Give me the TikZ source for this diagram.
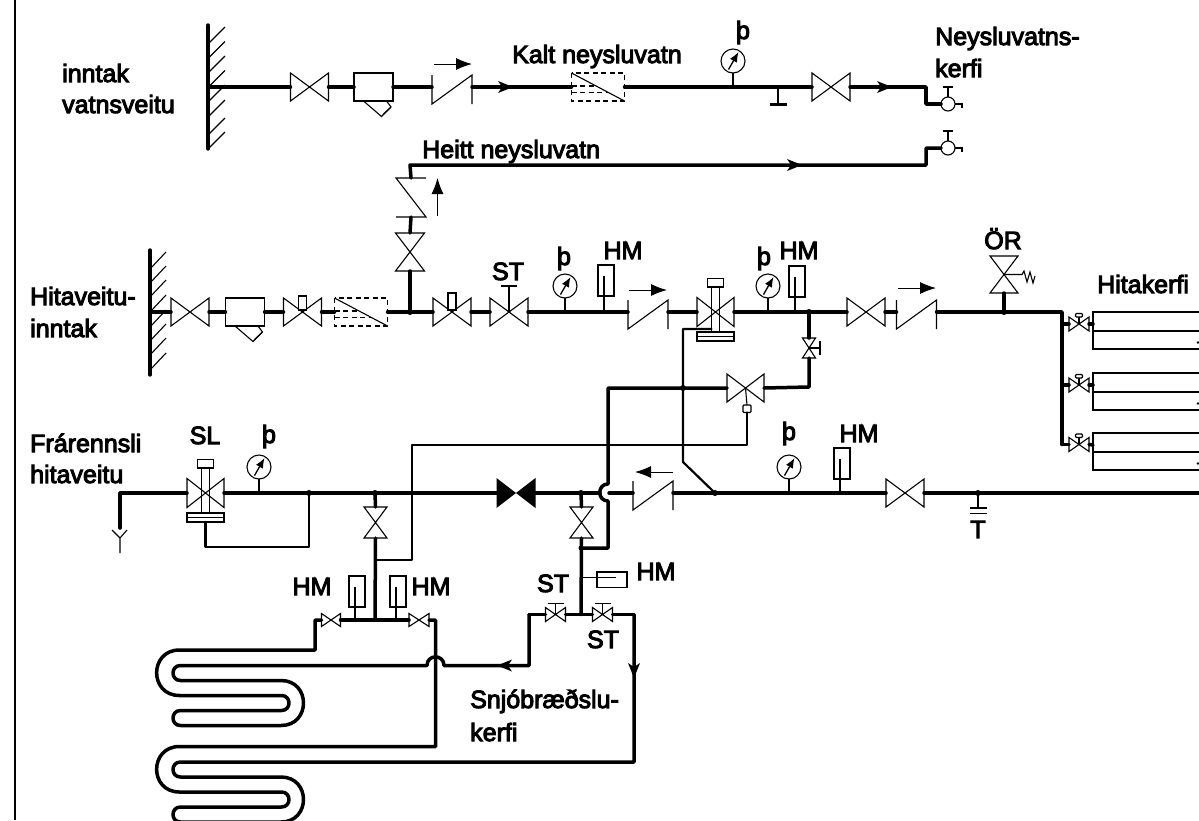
\documentclass[tikz,border=0pt]{standalone}
\usepackage{fontspec}
\usetikzlibrary{arrows.meta}
\newfontfamily\labfont[FakeBold=4]{Liberation Sans}
\tikzset{
  x=1pt,y=-1pt,
  sym/.style={line width=1.1pt,line join=miter},
  pipe/.style={line width=3.5pt,line join=round,line cap=round},
  ctl/.style={line width=2.2pt,line join=round,line cap=round},
  lab/.style={inner sep=0pt,font=\labfont\fontsize{25}{29}\selectfont},
  labl/.style={lab,anchor=base west},
  labc/.style={lab,anchor=base},
  pics/bow/.style 2 args={code={
    \draw[sym] (-#1,-#2)--(#1,#2)--(#1,-#2)--(-#1,#2)--cycle;
    \coordinate (-l) at (-#1,0); \coordinate (-r) at (#1,0); \coordinate (-c) at (0,0);}},
  pics/bowv/.style 2 args={code={
    \draw[sym] (-#2,-#1)--(#2,#1)--(-#2,#1)--(#2,-#1)--cycle;
    \coordinate (-t) at (0,-#1); \coordinate (-b) at (0,#1); \coordinate (-c) at (0,0);}},
  pics/blackbow/.style={code={
    \fill (-19.5,-15)--(19.5,15)--(19.5,-15)--(-19.5,15)--cycle;
    \coordinate (-l) at (-19.5,0); \coordinate (-r) at (19.5,0);}},
  pics/bigv/.style={code={\pic (-v) {bow={19}{14}};
    \coordinate (-l) at (-19,0); \coordinate (-r) at (19,0);}},
  pics/stopv/.style={code={\pic {bow={19}{14}};
    \draw[sym] (-4,-2) rectangle (4,-#1);
    \coordinate (-l) at (-19,0); \coordinate (-r) at (19,0);}},
  pics/stv/.style={code={\pic {bow={19}{14}};
    \draw[sym] (0,0)--(0,-26) (-8,-26)--(8,-26);
    \coordinate (-l) at (-19,0); \coordinate (-r) at (19,0);}},
  pics/smallst/.style={code={\pic {bow={10}{7}};
    \draw[sym] (0,0)--(0,-11) (-8,-11)--(8,-11);
    \coordinate (-l) at (-10,0); \coordinate (-r) at (10,0);}},
  pics/radv/.style={code={\pic {bow={10}{7}};
    \draw[sym] (0,0)--(0,-7);
    \draw[sym,fill=white,rounded corners=1pt] (-3.5,-10.5) rectangle (3.5,-7);
    \coordinate (-l) at (-10,0); \coordinate (-r) at (10,0);}},
  pics/ctrlv/.style={code={\pic {bow={18.5}{14.5}};
    \draw[sym] (-4,-25)--(-4,20) (4,-25)--(4,20);
    \draw[sym] (-8,-33.5) rectangle (8,-25);
    \draw[sym] (-18.5,20) rectangle (18.5,29) (-18.5,24.5)--(18.5,24.5);
    \coordinate (-l) at (-18.5,0); \coordinate (-r) at (18.5,0);
    \coordinate (-b) at (0,29); \coordinate (-s) at (-4,17);}},
  pics/chk/.style={code={
    \draw[sym] (-20,-12)--(-20,17)--(20,-12)--(20,17);
    \coordinate (-l) at (-20,0); \coordinate (-r) at (20,0);}},
  pics/chkv/.style={code={
    \draw[sym] (15,-19.5)--(-15,-19.5)--(15,19.5)--(-15,19.5);
    \coordinate (-t) at (0,-19.5); \coordinate (-b) at (0,19.5);}},
  pics/strainer/.style={code={
    \draw[sym] (-19.5,-14) rectangle (19.5,14);
    \draw[sym] (-10,14)--(8,29.5)--(17.5,20)--(13,14);
    \draw[sym] (9.5,27.5)--(16.5,21);
    \coordinate (-l) at (-19.5,0); \coordinate (-r) at (19.5,0);}},
  wat/.style={line width=1.1pt,dash pattern=on 5pt off 3.5pt},
  pics/filter/.style={code={
    \draw[wat] (-26.5,-14) rectangle (26.5,14);
    \draw[sym] (-26.5,-14)--(26.5,14);
    \draw[wat] (-26.5,-1)--(-2,-1) (-26.5,5.5)--(11,5.5);
    \coordinate (-l) at (-26.5,0); \coordinate (-r) at (26.5,0);}},
  pics/gauge/.style={code={
    \draw[sym] (0,0) circle (12);
    \draw[sym] (0,12)--(0,26);
    \draw[line width=1.3pt,-{Latex[length=10pt,width=8pt]}] (-4.5,8.5)--(5.5,-9);
    \coordinate (-b) at (0,26);}},
  pics/flowr/.style={code={
    \draw[line width=1pt,-{Latex[length=16pt,width=12pt]}] (-19,0)--(19,0);}},
  pics/flowl/.style={code={
    \draw[line width=1pt,-{Latex[length=16pt,width=12pt]}] (19,0)--(-19,0);}},
  pics/flowu/.style={code={
    \draw[line width=1pt,-{Latex[length=16pt,width=12pt]}] (0,19)--(0,-19);}},
  pics/tipr/.style={code={\fill (-15,-6)--(0,0)--(-15,6)--(-11,0)--cycle;}},
  pics/tipl/.style={code={\fill (15,-6)--(0,0)--(15,6)--(11,0)--cycle;}},
  pics/tipd/.style={code={\fill (-6,-15)--(0,0)--(6,-15)--(0,-11)--cycle;}},
  pics/faucet/.style={code={
    \draw[sym] (0,0) circle (7);
    \draw[sym] (0,-7)--(0,-17) (-5,-17)--(5,-17);
    \draw[sym] (7,0)--(14,0)--(14,4);
    \coordinate (-l) at (-7,0);}},
  pics/hmeter/.style={code={
    \draw[sym] (-6,-#1) rectangle (10,-#1+31);
    \draw[sym] (0,-#1+11)--(0,0);}},
  pics/radiator/.style={code={
    \draw[sym] (0,0) rectangle (108,37) (0,19)--(108,19);
    \fill (105,30.5) circle (1.3);
    \coordinate (-l) at (0,12);}},
}
\newcommand{\jdot}[1]{\fill (#1) circle (3);}
\begin{document}
\begin{tikzpicture}
\useasboundingbox (0,0) rectangle (1199,820);
\clip (0,0) rectangle (1199,820);
% frame line
\coordinate (ft) at (15,0); \coordinate (fb) at (15,820);
\draw[line width=1.7pt] (ft)--(fb);

% ---- walls
\coordinate (w1t) at (208,25); \coordinate (w1b) at (208,149); \coordinate (w1p) at (208,87);
\coordinate (w2t) at (150,250); \coordinate (w2b) at (150,375); \coordinate (w2p) at (150,312);
\draw[line width=3.4pt,line cap=round] (w1t)--(w1b);
\draw[line width=3.4pt,line cap=round] (w2t)--(w2b);
\foreach \y in {27,41.5,56,70.5,85,100,118,132}
  \draw[sym] (225,\y)--(208,\y+17);
\foreach \y in {252,266,280,295,310,324,338,353}
  \draw[sym] (166,\y)--(150,\y+17);

% ---- cold water line
\pic (v1) at (309.5,87) {bigv};
\pic (s1) at (373.5,87) {strainer};
\pic (c1) at (452,87) {chk};
\pic (f1) at (598,87) {filter};
\pic (g1) at (733,61) {gauge};
\pic (v2) at (831,87) {bigv};
\pic (fa1) at (948,104) {faucet};
\pic (fw1) at (453,64) {flowr};
\coordinate (dr1) at (778,87); \coordinate (dr2) at (778,104);
\coordinate (ca) at (926,87);
\draw[pipe] (w1p)--(v1-l);
\draw[pipe] (v1-r)--(s1-l);
\draw[pipe] (s1-r)--(c1-l);
\draw[pipe] (c1-r)--(f1-l);
\draw[pipe] (f1-r)--(v2-l);
\draw[pipe] (v2-r)--(ca)|-(fa1-l);
\draw[line width=1.3pt] (dr1)--(dr2);
\draw[line width=3pt] ([xshift=-8.5pt]dr2)--([xshift=8.5pt]dr2);
\pic at (513,87) {tipr};
\pic at (892,87) {tipr};

% ---- hot water line
\pic (fa2) at (948,148) {faucet};
\pic (c2) at (411,197.5) {chkv};
\pic (v3) at (410,252) {bowv={19}{14.5}};
\pic at (437.5,197) {flowu};
\coordinate (j1) at (410,312);
\coordinate (hc) at (410,165);
\coordinate (hd) at (926,165);
\draw[pipe] (v3-b)--(j1);
\draw[pipe] (v3-t)--(c2-b);
\draw[pipe] (c2-t)--(hc)--(hd)|-(fa2-l);
\pic at (802,165) {tipr};

% ---- hitaveita inlet line
\pic (v4) at (190,312) {bigv};
\pic (s2) at (245,312) {strainer};
\pic (v5) at (302.5,312) {stopv={16}};
\pic (f2) at (361,312) {filter};
\pic (v6) at (452,312) {stopv={19}};
\pic (v7) at (509,312) {stv};
\pic (g2) at (565,286) {gauge};
\pic (h1) at (604,312) {hmeter={47}};
\pic (c3) at (648,312) {chk};
\pic (fw2) at (648,290) {flowr};
\pic (cv1) at (715.5,312) {ctrlv};
\pic (g3) at (768,286) {gauge};
\pic (h2) at (795,312) {hmeter={46}};
\coordinate (j2) at (809,312);
\pic (v8) at (866,312) {bigv};
\pic (c4) at (916.5,312) {chk};
\pic (fw3) at (917,288) {flowr};
\pic (or) at (1004,274.5) {bowv={18.5}{14}};
\coordinate (j3) at (1004,312);
\draw[sym] (or-c)--(1022,274.5)--(1024,271)--(1027,282)--(1030,272)--(1033,283)--(1035,276);
\coordinate (hm) at (1062,312);
\coordinate (hb) at (1062,444.5);
\draw[pipe] (w2p)--(v4-l);
\draw[pipe] (v4-r)--(s2-l);
\draw[pipe] (s2-r)--(v5-l);
\draw[pipe] (v5-r)--(f2-l);
\draw[pipe] (f2-r)--(j1)--(v6-l);
\draw[pipe] (v6-r)--(v7-l);
\draw[pipe] (v7-r)--(c3-l);
\draw[pipe] (c3-r)--(cv1-l);
\draw[pipe] (cv1-r)--(j2)--(v8-l);
\draw[pipe] (v8-r)--(c4-l);
\draw[pipe] (c4-r)--(j3)--(hm)--(hb);
\draw[pipe] (or-b)--(j3);
\jdot{j1} \jdot{j2} \jdot{j3}

% ---- radiators
\foreach \n/\yv/\yr in {a/324/312,b/385/373,c/444.5/433}{
  \pic (rv\n) at (1079,\yv) {radv};
  \pic (rd\n) at (1093,\yr) {radiator};
  \coordinate (rs\n) at (1062,\yv);
  \draw[pipe] (rs\n)--(rv\n-l);
  \draw[pipe] (rv\n-r)--(rd\n-l);
}

% ---- mixing branch
\pic (v9) at (809,348) {bowv={10}{6.5}};
\draw[sym] (v9-c)--(820,348) (820,341)--(820,355);
\pic (v10) at (745.5,388) {bow={18.5}{14}};
\coordinate (akt) at (747,408.5);
\draw[sym,fill=white,rounded corners=1pt] (743,405) rectangle (751,412.5);
\draw[sym] (v10-c)--(747,405);
\coordinate (vb1) at (809,387);
\coordinate (cor1) at (608,388);
\coordinate (jx) at (683,388);
\coordinate (hop1) at (608,484);
\coordinate (hop2) at (608,501);
\coordinate (cor2) at (608,548);
\coordinate (j7) at (581,548);
\draw[pipe] (j2)--(v9-t);
\draw[pipe] (v9-b)--(vb1)--(v10-r);
\draw[pipe] (v10-l)--(cor1)--(hop1) .. controls (597,484) and (597,501) .. (hop2)--(cor2)--(j7);
\jdot{jx}

% control lines
\coordinate (kn1) at (683,462);
\coordinate (j8) at (715,493);
\draw[ctl] (cv1-s)-|(kn1)--(j8);
\coordinate (cc1) at (747,445);
\coordinate (cc2) at (412,445);
\coordinate (cc3) at (412,560);
\coordinate (cc4) at (376,560);
\draw[ctl] (747,412.5)--(cc1)--(cc2)--(cc3)--(cc4);

% ---- return line
\coordinate (y1) at (120,528); \coordinate (y0) at (120,493);
\pic (cv2) at (205.5,493) {ctrlv};
\pic (g4) at (259,467) {gauge};
\coordinate (j4) at (309,493);
\coordinate (j5) at (375,493);
\pic (v11) at (375.5,522.5) {bowv={15.5}{11.5}};
\pic (bv) at (516,493) {blackbow};
\coordinate (j6) at (581,493);
\pic (v12) at (581.5,522.5) {bowv={15.5}{11.5}};
\coordinate (hx1) at (600,493); \coordinate (hx2) at (609,493);
\pic (c5) at (653,493) {chk};
\pic (fw4) at (654,472) {flowl};
\pic (g5) at (789,467) {gauge};
\pic (h3) at (840,493) {hmeter={45}};
\pic (v13) at (905,493) {bigv};
\coordinate (j9) at (978,493);
\coordinate (re) at (1199,493);
\draw[pipe] (y1)--(y0)--(cv2-l);
\draw[pipe] (cv2-r)--(j4)--(j5)--(bv-l);
\draw[pipe] (bv-r)--(j6)--(hx1);
\draw[pipe] (hx2)--(c5-l);
\draw[pipe] (c5-r)--(j8)--(v13-l);
\draw[pipe] (v13-r)--(j9)--(re);
\draw[ctl] (cv2-b)--(205.5,547)-|(j4);
\draw[pipe] (j5)--(v11-t);
\draw[pipe] (j6)--(v12-t);
\jdot{j4} \jdot{j5} \jdot{j6} \jdot{j8} \jdot{j9}
% drain funnel
\draw[sym] (112,530)--(120,538)--(127,530) (120,538)--(120,553);
% T trap
\draw[sym] (j9)--(978,508);
\draw[line width=1.3pt] (970,508)--(987,508) (970,513.5)--(987,513.5);

% ---- snow melting supply left
\coordinate (m1) at (375,620);
\pic (v14) at (331,620) {bow={9.5}{6.5}};
\pic (v15) at (419,620) {bow={10}{6.5}};
\pic (h4) at (355,620) {hmeter={44}};
\pic (h5) at (396,620) {hmeter={44}};
\draw[pipe] (v11-b)--(m1);
\draw[pipe] (v14-r)--(v15-l);
\coordinate (l1) at (315,620);
\coordinate (l2) at (315,650);
\coordinate (r1) at (435.5,620);
\coordinate (r2) at (435.5,746.5);
\draw[pipe] (v14-l)--(l1)--(l2)--(179.5,650)
  .. controls (149,650) and (149,695.5) .. (179.5,695.5)
  --(281.5,695.5) .. controls (291.5,695.5) and (291.5,710.5) .. (281.5,710.5)
  --(180.5,710.5) .. controls (170.5,710.5) and (170.5,725.5) .. (180.5,725.5)
  --(281,725.5) .. controls (311,725.5) and (311,680.5) .. (281,680.5)
  --(180.5,680.5) .. controls (170.5,680.5) and (170.5,665.5) .. (180.5,665.5)
  --(427,665.5) .. controls (427,654) and (444,654) .. (444,665.5)
  --(529,665.5)--(529,614.5);
\draw[pipe] (v15-r)--(r1)--(r2)--(179.5,746.5)
  .. controls (149,746.5) and (149,792) .. (179.5,792)
  --(281.5,792) .. controls (291.5,792) and (291.5,807) .. (281.5,807)
  --(180.5,807) .. controls (170.5,807) and (170.5,822) .. (180.5,822)
  --(281,822) .. controls (311,822) and (311,777) .. (281,777)
  --(180.5,777) .. controls (170.5,777) and (170.5,762) .. (180.5,762)
  --(634,762)--(634,614.5);
\pic at (497,665.5) {tipl};
\pic at (634,678) {tipd};

% ---- snow melting supply right
\pic (v16) at (555.5,614.5) {smallst};
\pic (v17) at (602.5,614.5) {smallst};
\coordinate (j10) at (581,614.5);
\coordinate (sl) at (529,614.5);
\coordinate (sr) at (634,614.5);
\draw[pipe] (sl)--(v16-l);
\draw[pipe] (v16-r)--(j10)--(v17-l);
\draw[pipe] (v17-r)--(sr);
\draw[pipe] (v12-b)--(j10);
\fill (j7) circle (2.5);
% horizontal meter
\draw[sym] (597,572) rectangle (627,587.5);
\draw[sym] (581,577.5)--(616,577.5);

% ---- texts
\node[labl] (t1) at (62,82) {inntak};
\node[labl] (t2) at (62,113) {vatnsveitu};
\node[labl] (t3) at (512,63) {Kalt neysluvatn};
\node[labc] (t4) at (743,39) {þ};
\node[labl] (t5) at (935,45) {Neysluvatns-};
\node[labl] (t6) at (935,77) {kerfi};
\node[labl] (t7) at (422,158) {Heitt neysluvatn};
\node[labl] (t8) at (30,305) {Hitaveitu-};
\node[labl] (t9) at (30,337) {inntak};
\node[labc] (t10) at (508,280) {ST};
\node[labc] (t11) at (564,265) {þ};
\node[labc] (t12) at (623,259) {HM};
\node[labc] (t13) at (764,265) {þ};
\node[labc] (t14) at (799,259) {HM};
\node[labc] (t15) at (1003,249) {ÖR};
\node[labl] (t16) at (1097,293) {Hitakerfi};
\node[labl] (t17) at (30,452) {Frárennsli};
\node[labl] (t18) at (30,483) {hitaveitu};
\node[labc] (t19) at (205,444) {SL};
\node[labc] (t20) at (269,443) {þ};
\node[labc] (t21) at (789,440) {þ};
\node[labc] (t22) at (859,442) {HM};
\node[labc] (t23) at (978,538) {T};
\node[labc] (t24) at (312,595) {HM};
\node[labc] (t25) at (431,595) {HM};
\node[labc] (t26) at (553,592) {ST};
\node[labc] (t27) at (603,648) {ST};
\node[labc] (t28) at (656,580) {HM};
\node[labl] (t29) at (470,708) {Snjóbræðslu-};
\node[labl] (t30) at (470,741) {kerfi};
\end{tikzpicture}
\end{document}
